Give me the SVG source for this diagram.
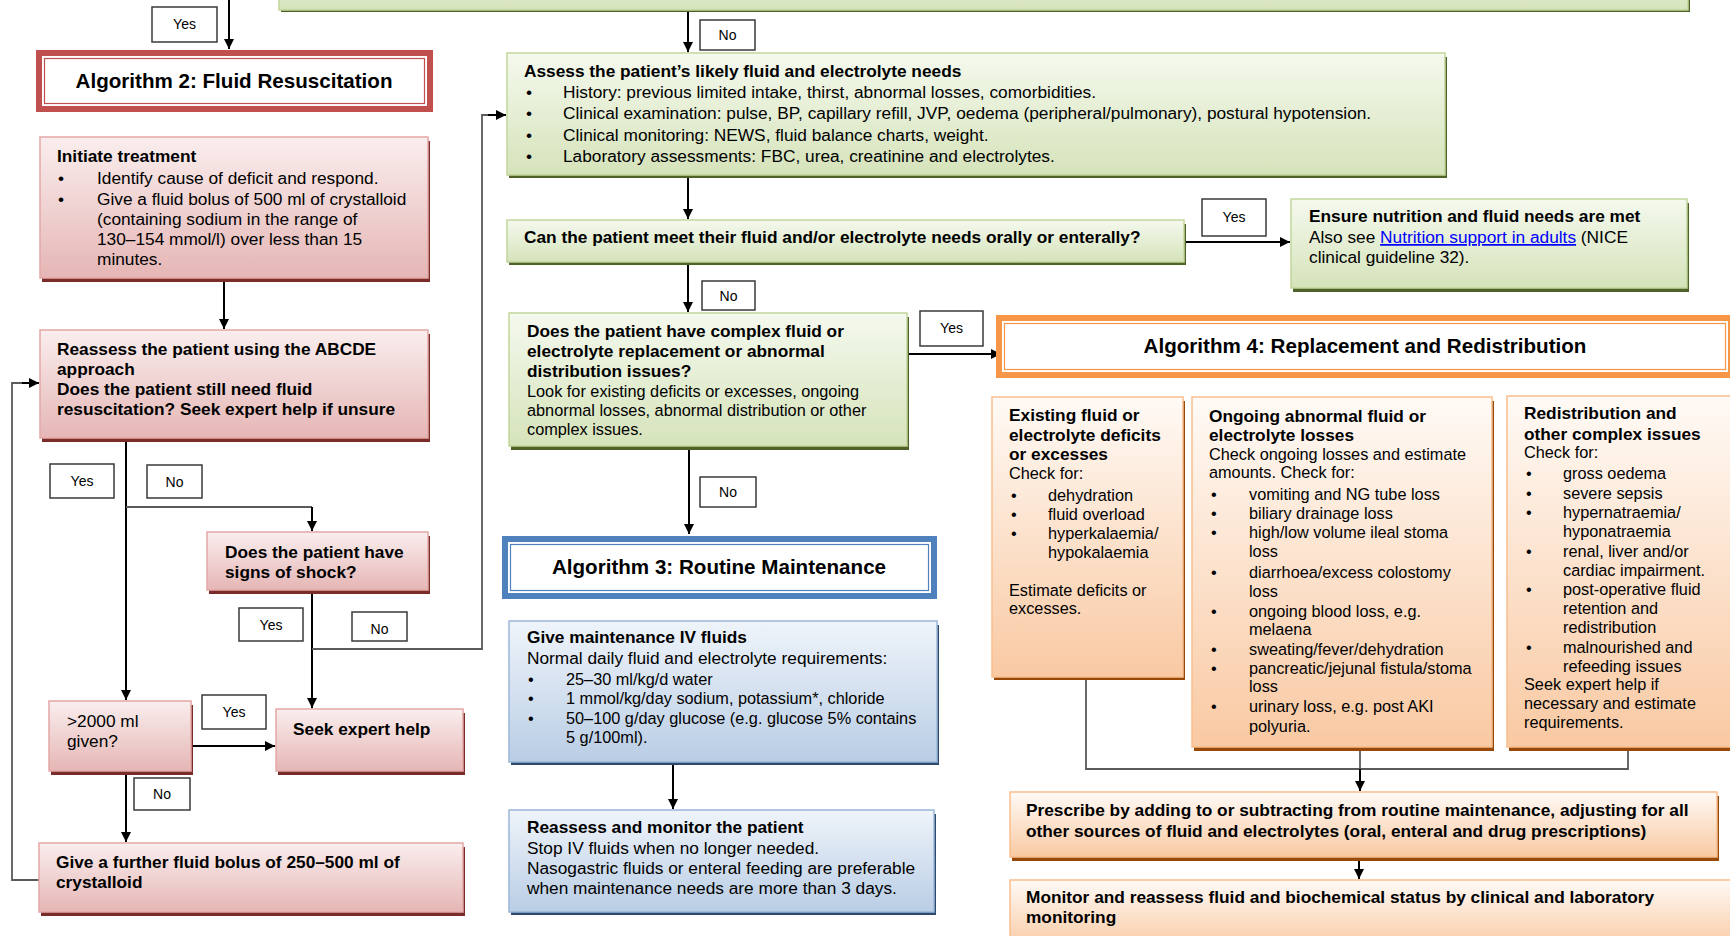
<svg xmlns="http://www.w3.org/2000/svg" width="1730" height="936" viewBox="0 0 1730 936">
<defs>
<linearGradient id="gR" x1="0" y1="0" x2="0" y2="1"><stop offset="0" stop-color="#FAEEEE"/><stop offset="1" stop-color="#E5B6B5"/></linearGradient>
<linearGradient id="gG" x1="0" y1="0" x2="0" y2="1"><stop offset="0" stop-color="#F5F9EE"/><stop offset="1" stop-color="#D5E3BA"/></linearGradient>
<linearGradient id="gB" x1="0" y1="0" x2="0" y2="1"><stop offset="0" stop-color="#EFF4FA"/><stop offset="1" stop-color="#B9CDE5"/></linearGradient>
<linearGradient id="gO" x1="0" y1="0" x2="0" y2="1"><stop offset="0" stop-color="#FFFAF6"/><stop offset="1" stop-color="#F9C9A2"/></linearGradient>
<marker id="ah" viewBox="0 0 10 10" refX="10" refY="5" markerWidth="10" markerHeight="10" markerUnits="userSpaceOnUse" orient="auto"><path d="M0,0 L10,5 L0,10 z" fill="#000"/></marker>
<style>
text{font-family:"Liberation Sans",Arial,Helvetica,sans-serif;font-size:17.3px;fill:#000}
.b{font-weight:bold}
.s{font-size:16.3px}
.h{font-size:20.6px;font-weight:bold;text-anchor:middle}
.lt{font-size:14px;text-anchor:middle}
.lb{fill:#fff;stroke:#3a3a3a;stroke-width:1.5}
.rB{fill:url(#gR);stroke:#E4A8A7;stroke-width:1.5}
.rS{fill:#7A2C2A}
.gB{fill:url(#gG);stroke:#C2D69B;stroke-width:1.5}
.gS{fill:#4F6228}
.bB{fill:url(#gB);stroke:#9BB7D9;stroke-width:1.5}
.bS{fill:#2C4A6E}
.oB{fill:url(#gO);stroke:#F9BE8F;stroke-width:1.5}
.oS{fill:#984807}
.ln{fill:none;stroke:#000;stroke-width:2}
.gl{fill:none;stroke:#5a5a5a;stroke-width:1.8}
.lk{fill:#0000FF;text-decoration:underline}
</style>
</defs>

<g id="connectors">
<path class="ln" d="M229,0 V49" marker-end="url(#ah)"/>
<path class="ln" d="M688,12 V52" marker-end="url(#ah)"/>
<path class="ln" d="M224,280 V329" marker-end="url(#ah)"/>
<path class="ln" d="M126,440 V700" marker-end="url(#ah)"/>
<path class="gl" d="M126,507 H312"/>
<path class="ln" d="M312,507 V531" marker-end="url(#ah)"/>
<path class="ln" d="M312,593 V708" marker-end="url(#ah)"/>
<path class="gl" d="M312,649 H482 V115 H490"/>
<path class="ln" d="M488,115 H506" marker-end="url(#ah)"/>
<path class="ln" d="M191,746 H275" marker-end="url(#ah)"/>
<path class="ln" d="M126,774 V842" marker-end="url(#ah)"/>
<path class="gl" d="M39,880 H12 V383 H24"/>
<path class="ln" d="M22,383 H39" marker-end="url(#ah)"/>
<path class="ln" d="M688,178 V219" marker-end="url(#ah)"/>
<path class="ln" d="M688,265 V312" marker-end="url(#ah)"/>
<path class="ln" d="M1184,242 H1290" marker-end="url(#ah)"/>
<path class="ln" d="M907,354 H1001" marker-end="url(#ah)"/>
<path class="ln" d="M689,449 V534" marker-end="url(#ah)"/>
<path class="ln" d="M673,764 V809" marker-end="url(#ah)"/>
<path class="gl" d="M1086,680 V769 H1628 V751"/>
<path class="gl" d="M1360,751 V769"/>
<path class="ln" d="M1360,769 V791" marker-end="url(#ah)"/>
<path class="ln" d="M1359,861 V879" marker-end="url(#ah)"/>
</g>

<g id="labels">
<g id="l1"><rect class="lb" x="152" y="7" width="65" height="35"/><text class="lt" x="184.5" y="29">Yes</text></g>
<g id="l2"><rect class="lb" x="700" y="20" width="55" height="30"/><text class="lt" x="727.5" y="40">No</text></g>
<g id="l3"><rect class="lb" x="50" y="464" width="64" height="34"/><text class="lt" x="82" y="486">Yes</text></g>
<g id="l4"><rect class="lb" x="147" y="465" width="55" height="33"/><text class="lt" x="174.5" y="487">No</text></g>
<g id="l5"><rect class="lb" x="239" y="608" width="64" height="33"/><text class="lt" x="271" y="630">Yes</text></g>
<g id="l6"><rect class="lb" x="352" y="612" width="55" height="29"/><text class="lt" x="379.5" y="634">No</text></g>
<g id="l7"><rect class="lb" x="202" y="695" width="64" height="34"/><text class="lt" x="234" y="717">Yes</text></g>
<g id="l8"><rect class="lb" x="134" y="778" width="56" height="32"/><text class="lt" x="162" y="799">No</text></g>
<g id="l9"><rect class="lb" x="702" y="281" width="53" height="29"/><text class="lt" x="728.5" y="301">No</text></g>
<g id="l10"><rect class="lb" x="1202" y="199" width="64" height="37"/><text class="lt" x="1234" y="222">Yes</text></g>
<g id="l11"><rect class="lb" x="920" y="311" width="63" height="35"/><text class="lt" x="951.5" y="333">Yes</text></g>
<g id="l12"><rect class="lb" x="700" y="477" width="56" height="30"/><text class="lt" x="728" y="497">No</text></g>
</g>

<g id="top-box">
<rect class="gS" x="281" y="-40" width="1409" height="52"/>
<rect class="gB" x="279" y="-40" width="1409" height="50"/>
</g>

<g id="alg2">
<rect x="36" y="50" width="397" height="62" fill="#C0504D"/>
<rect x="42" y="56" width="385" height="50" fill="#fff"/>
<rect x="44.5" y="58.5" width="380" height="45" fill="none" stroke="#C0504D" stroke-width="1.2"/>
<text class="h" x="234" y="88">Algorithm 2: Fluid Resuscitation</text>
</g>

<g id="initiate">
<rect class="rS" x="42" y="141" width="388" height="141"/>
<rect class="rB" x="40" y="137" width="388" height="141"/>
<text class="b" x="57" y="162">Initiate treatment</text>
<text x="58" y="184">•</text><text x="97" y="184">Identify cause of deficit and respond.</text>
<text x="58" y="205">•</text><text x="97" y="205">Give a fluid bolus of 500 ml of crystalloid</text>
<text x="97" y="225">(containing sodium in the range of</text>
<text x="97" y="245">130–154 mmol/l) over less than 15</text>
<text x="97" y="265">minutes.</text>
</g>

<g id="reassess">
<rect class="rS" x="42" y="334" width="388" height="108"/>
<rect class="rB" x="40" y="330" width="388" height="108"/>
<text class="b" x="57" y="355">Reassess the patient using the ABCDE</text>
<text class="b" x="57" y="375">approach</text>
<text class="b" x="57" y="395">Does the patient still need fluid</text>
<text class="b" x="57" y="415">resuscitation? Seek expert help if unsure</text>
</g>

<g id="shock">
<rect class="rS" x="209" y="536" width="221" height="58"/>
<rect class="rB" x="207" y="532" width="221" height="58"/>
<text class="b" x="225" y="558">Does the patient have</text>
<text class="b" x="225" y="578">signs of shock?</text>
</g>

<g id="given2000">
<rect class="rS" x="51" y="705" width="142" height="70"/>
<rect class="rB" x="49" y="701" width="142" height="70"/>
<text x="67" y="727">&gt;2000 ml</text>
<text x="67" y="747">given?</text>
</g>

<g id="seek-help">
<rect class="rS" x="278" y="713" width="187" height="62"/>
<rect class="rB" x="276" y="709" width="187" height="62"/>
<text class="b" x="293" y="735">Seek expert help</text>
</g>

<g id="further-bolus">
<rect class="rS" x="41" y="847" width="424" height="69"/>
<rect class="rB" x="39" y="843" width="424" height="69"/>
<text class="b" x="56" y="868">Give a further fluid bolus of 250–500 ml of</text>
<text class="b" x="56" y="888">crystalloid</text>
</g>

<g id="assess">
<rect class="gS" x="509" y="57" width="938" height="121"/>
<rect class="gB" x="507" y="53" width="938" height="122"/>
<text class="b" x="524" y="77">Assess the patient’s likely fluid and electrolyte needs</text>
<text x="526" y="98">•</text><text x="563" y="98">History: previous limited intake, thirst, abnormal losses, comorbidities.</text>
<text x="526" y="119">•</text><text x="563" y="119">Clinical examination: pulse, BP, capillary refill, JVP, oedema (peripheral/pulmonary), postural hypotension.</text>
<text x="526" y="141">•</text><text x="563" y="141">Clinical monitoring: NEWS, fluid balance charts, weight.</text>
<text x="526" y="162">•</text><text x="563" y="162">Laboratory assessments: FBC, urea, creatinine and electrolytes.</text>
</g>

<g id="oral">
<rect class="gS" x="509" y="224" width="677" height="41"/>
<rect class="gB" x="507" y="220" width="677" height="42"/>
<text class="b" x="524" y="243">Can the patient meet their fluid and/or electrolyte needs orally or enterally?</text>
</g>

<g id="nutrition">
<rect class="gS" x="1293" y="203" width="396" height="89"/>
<rect class="gB" x="1291" y="199" width="396" height="89"/>
<text class="b" x="1309" y="222">Ensure nutrition and fluid needs are met</text>
<text x="1309" y="243">Also see <tspan class="lk">Nutrition support in adults</tspan> (NICE</text>
<text x="1309" y="263">clinical guideline 32).</text>
</g>

<g id="complex">
<rect class="gS" x="511" y="317" width="398" height="133"/>
<rect class="gB" x="509" y="313" width="398" height="133"/>
<text class="b" x="527" y="337">Does the patient have complex fluid or</text>
<text class="b" x="527" y="357">electrolyte replacement or abnormal</text>
<text class="b" x="527" y="377">distribution issues?</text>
<text class="s" x="527" y="397">Look for existing deficits or excesses, ongoing</text>
<text class="s" x="527" y="416">abnormal losses, abnormal distribution or other</text>
<text class="s" x="527" y="435">complex issues.</text>
</g>

<g id="alg3">
<rect x="502" y="536" width="435" height="63" fill="#4F81BD"/>
<rect x="508" y="542" width="423" height="51" fill="#fff"/>
<rect x="510.5" y="544.5" width="418" height="46" fill="none" stroke="#4F81BD" stroke-width="1.2"/>
<text class="h" x="719" y="574">Algorithm 3: Routine Maintenance</text>
</g>

<g id="maintenance">
<rect class="bS" x="511" y="625" width="428" height="140"/>
<rect class="bB" x="509" y="621" width="428" height="141"/>
<text class="b" x="527" y="643">Give maintenance IV fluids</text>
<text x="527" y="664">Normal daily fluid and electrolyte requirements:</text>
<text class="s" x="528" y="685">•</text><text class="s" x="566" y="685">25–30 ml/kg/d water</text>
<text class="s" x="528" y="704">•</text><text class="s" x="566" y="704">1 mmol/kg/day sodium, potassium*, chloride</text>
<text class="s" x="528" y="724">•</text><text class="s" x="566" y="724">50–100 g/day glucose (e.g. glucose 5% contains</text>
<text class="s" x="566" y="743">5 g/100ml).</text>
</g>

<g id="monitor-patient">
<rect class="bS" x="511" y="814" width="425" height="101"/>
<rect class="bB" x="509" y="810" width="425" height="102"/>
<text class="b" x="527" y="833">Reassess and monitor the patient</text>
<text x="527" y="854">Stop IV fluids when no longer needed.</text>
<text x="527" y="874">Nasogastric fluids or enteral feeding are preferable</text>
<text x="527" y="894">when maintenance needs are more than 3 days.</text>
</g>

<g id="alg4">
<rect x="996" y="315" width="738" height="63" fill="#F79646"/>
<rect x="1002" y="321" width="726" height="51" fill="#fff"/>
<rect x="1004.5" y="323.5" width="721" height="46" fill="none" stroke="#F79646" stroke-width="1.2"/>
<text class="h" x="1365" y="353">Algorithm 4: Replacement and Redistribution</text>
</g>

<g id="existing">
<rect class="oS" x="994" y="401" width="191" height="279"/>
<rect class="oB" x="992" y="397" width="191" height="280"/>
<text class="b" x="1009" y="421">Existing fluid or</text>
<text class="b" x="1009" y="441">electrolyte deficits</text>
<text class="b" x="1009" y="460">or excesses</text>
<text class="s" x="1009" y="479">Check for:</text>
<text class="s" x="1011" y="501">•</text><text class="s" x="1048" y="501">dehydration</text>
<text class="s" x="1011" y="520">•</text><text class="s" x="1048" y="520">fluid overload</text>
<text class="s" x="1011" y="539">•</text><text class="s" x="1048" y="539">hyperkalaemia/</text>
<text class="s" x="1048" y="558">hypokalaemia</text>
<text class="s" x="1009" y="596">Estimate deficits or</text>
<text class="s" x="1009" y="614">excesses.</text>
</g>

<g id="ongoing">
<rect class="oS" x="1194" y="401" width="300" height="350"/>
<rect class="oB" x="1192" y="397" width="300" height="350"/>
<text class="b" x="1209" y="422">Ongoing abnormal fluid or</text>
<text class="b" x="1209" y="441">electrolyte losses</text>
<text class="s" x="1209" y="460">Check ongoing losses and estimate</text>
<text class="s" x="1209" y="478">amounts. Check for:</text>
<text class="s" x="1211" y="500">•</text><text class="s" x="1249" y="500">vomiting and NG tube loss</text>
<text class="s" x="1211" y="519">•</text><text class="s" x="1249" y="519">biliary drainage loss</text>
<text class="s" x="1211" y="538">•</text><text class="s" x="1249" y="538">high/low volume ileal stoma</text>
<text class="s" x="1249" y="557">loss</text>
<text class="s" x="1211" y="578">•</text><text class="s" x="1249" y="578">diarrhoea/excess colostomy</text>
<text class="s" x="1249" y="597">loss</text>
<text class="s" x="1211" y="617">•</text><text class="s" x="1249" y="617">ongoing blood loss, e.g.</text>
<text class="s" x="1249" y="635">melaena</text>
<text class="s" x="1211" y="655">•</text><text class="s" x="1249" y="655">sweating/fever/dehydration</text>
<text class="s" x="1211" y="674">•</text><text class="s" x="1249" y="674">pancreatic/jejunal fistula/stoma</text>
<text class="s" x="1249" y="692">loss</text>
<text class="s" x="1211" y="712">•</text><text class="s" x="1249" y="712">urinary loss, e.g. post AKI</text>
<text class="s" x="1249" y="732">polyuria.</text>
</g>

<g id="redistribution">
<rect class="oS" x="1509" y="400" width="230" height="351"/>
<rect class="oB" x="1507" y="396" width="230" height="351"/>
<text class="b" x="1524" y="419">Redistribution and</text>
<text class="b" x="1524" y="440">other complex issues</text>
<text class="s" x="1524" y="458">Check for:</text>
<text class="s" x="1526" y="479">•</text><text class="s" x="1563" y="479">gross oedema</text>
<text class="s" x="1526" y="499">•</text><text class="s" x="1563" y="499">severe sepsis</text>
<text class="s" x="1526" y="518">•</text><text class="s" x="1563" y="518">hypernatraemia/</text>
<text class="s" x="1563" y="537">hyponatraemia</text>
<text class="s" x="1526" y="557">•</text><text class="s" x="1563" y="557">renal, liver and/or</text>
<text class="s" x="1563" y="576">cardiac impairment.</text>
<text class="s" x="1526" y="595">•</text><text class="s" x="1563" y="595">post-operative fluid</text>
<text class="s" x="1563" y="614">retention and</text>
<text class="s" x="1563" y="633">redistribution</text>
<text class="s" x="1526" y="653">•</text><text class="s" x="1563" y="653">malnourished and</text>
<text class="s" x="1563" y="672">refeeding issues</text>
<text class="s" x="1524" y="690">Seek expert help if</text>
<text class="s" x="1524" y="709">necessary and estimate</text>
<text class="s" x="1524" y="728">requirements.</text>
</g>

<g id="prescribe">
<rect class="oS" x="1012" y="796" width="707" height="65"/>
<rect class="oB" x="1010" y="792" width="707" height="65"/>
<text class="b" x="1026" y="816">Prescribe by adding to or subtracting from routine maintenance, adjusting for all</text>
<text class="b" x="1026" y="837">other sources of fluid and electrolytes (oral, enteral and drug prescriptions)</text>
</g>

<g id="monitor-status">
<rect class="oB" x="1010" y="880" width="724" height="70"/>
<text class="b" x="1026" y="903">Monitor and reassess fluid and biochemical status by clinical and laboratory</text>
<text class="b" x="1026" y="923">monitoring</text>
</g>
</svg>
